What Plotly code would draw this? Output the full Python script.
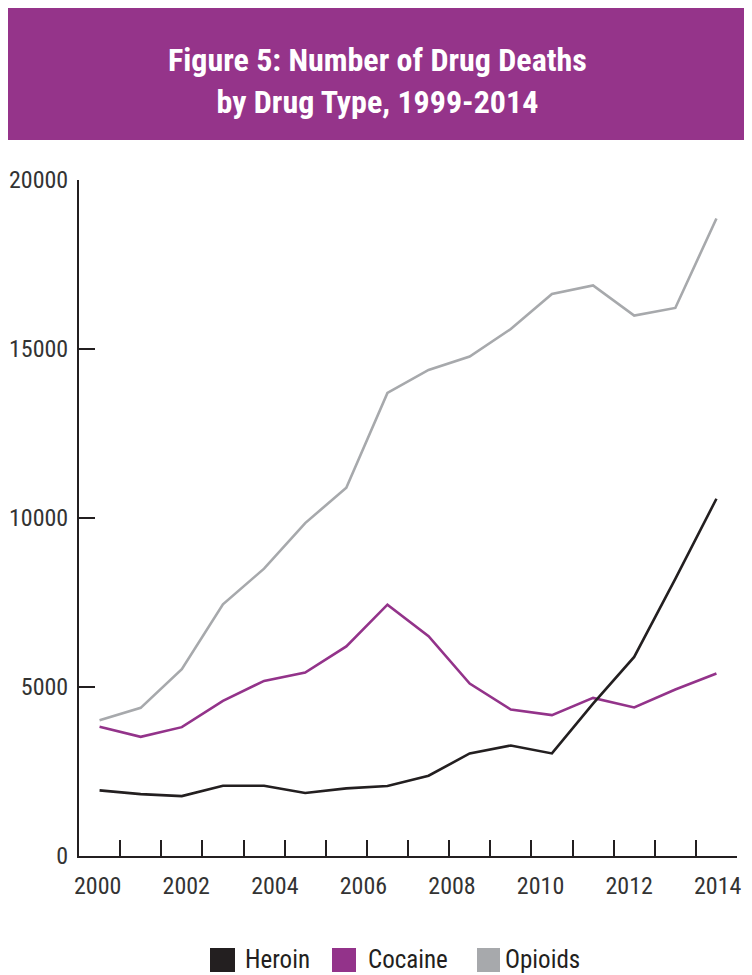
import plotly.graph_objects as go

years = list(range(1999, 2015))
heroin = [1941, 1832, 1773, 2078, 2078, 1862, 2000, 2069, 2374, 3034, 3270, 3034, 4506, 5890, 8200, 10570]
cocaine = [3822, 3526, 3812, 4590, 5181, 5427, 6200, 7437, 6501, 5103, 4335, 4167, 4678, 4394, 4926, 5398]
opioids = [4019, 4383, 5526, 7447, 8501, 9850, 10895, 13700, 14381, 14775, 15593, 16627, 16882, 15987, 16214, 18862]
series_names = ["Heroin", "Cocaine", "Opioids"]
series_colors = ["#231F20", "#93338A", "#A7A9AC"]
year_labels = [2000, 2002, 2004, 2006, 2008, 2010, 2012, 2014]
y_ticks = [0, 5000, 10000, 15000, 20000]
title_text = "Figure 5: Number of Drug Deaths<br>by Drug Type, 1999-2014"

FONT = "Liberation Sans Narrow, Arial Narrow, Roboto Condensed, sans-serif"
AXIS = "#231F20"

fig = go.Figure()
# draw opioids first so darker lines sit above
for name, vals, col in reversed(list(zip(series_names, [heroin, cocaine, opioids], series_colors))):
    fig.add_trace(go.Scatter(x=years, y=vals, mode="lines", name=name,
                             line=dict(color=col, width=2.6), showlegend=False,
                             xaxis="x", yaxis="y"))

# dummy trace to activate label axis
fig.add_trace(go.Scatter(x=[None], y=[None], xaxis="x2", yaxis="y", showlegend=False))

fig.update_layout(
    width=744, height=967,
    margin=dict(l=71, r=15, t=172, b=119, pad=0),
    paper_bgcolor="white", plot_bgcolor="white",
    showlegend=False,
    font=dict(family=FONT, color="#333333"),
    xaxis=dict(range=[years[0] - 0.5, years[-1] + 0.5], showgrid=False, zeroline=False,
               showline=True, linecolor=AXIS, linewidth=2, automargin=False,
               tickvals=[y + 0.5 for y in years], ticks="inside", ticklen=16,
               tickwidth=2, tickcolor=AXIS, showticklabels=False),
    xaxis2=dict(overlaying="x", anchor="y", side="bottom", automargin=False,
                range=[1999.578, 2014.436], showgrid=False, zeroline=False,
                showline=False, ticks="", tickvals=year_labels,
                ticktext=[str(v) for v in year_labels],
                tickfont=dict(family=FONT, size=24, color="#333333"),
                ticklabelstandoff=13),
    yaxis=dict(range=[0, 20000], showgrid=False, zeroline=False, automargin=False,
               showline=True, linecolor=AXIS, linewidth=2,
               tickvals=y_ticks, ticktext=[str(v) for v in y_ticks],
               ticks="inside", ticklen=16, tickwidth=2, tickcolor=AXIS,
               tickfont=dict(family=FONT, size=24, color="#333333"),
               ticklabelstandoff=4),
)

# helpers: page pixel -> paper coordinate (plot area spans 79..737 x, 180..856 y on the page)
def px_x(p):
    return (p - 79) / 658.0

def px_y(p):
    return (856 - p) / 676.0

# title banner
fig.add_shape(type="rect", xref="paper", yref="paper",
              x0=px_x(8), x1=px_x(745), y0=px_y(140), y1=px_y(8),
              fillcolor="#95348A", line=dict(width=0), layer="below")
fig.add_annotation(xref="paper", yref="paper", x=px_x(377), y=px_y(81),
                   xanchor="center", yanchor="middle", showarrow=False,
                   text="<b>" + title_text + "</b>",
                   font=dict(family=FONT, size=32, color="white"))

# legend
legend_sq = [(210, 235), (332, 356), (477, 500)]
legend_tx = [243, 366, 503]
for (a, b), tx, name, col in zip(legend_sq, legend_tx, series_names, series_colors):
    fig.add_shape(type="rect", xref="paper", yref="paper",
                  x0=px_x(a), x1=px_x(b), y0=px_y(972), y1=px_y(948),
                  fillcolor=col, line=dict(width=0))
    fig.add_annotation(xref="paper", yref="paper", x=px_x(tx), y=px_y(960),
                       xanchor="left", yanchor="middle", showarrow=False,
                       text=name, font=dict(family=FONT, size=25, color="#231F20"))

fig.write_html("out.html")
